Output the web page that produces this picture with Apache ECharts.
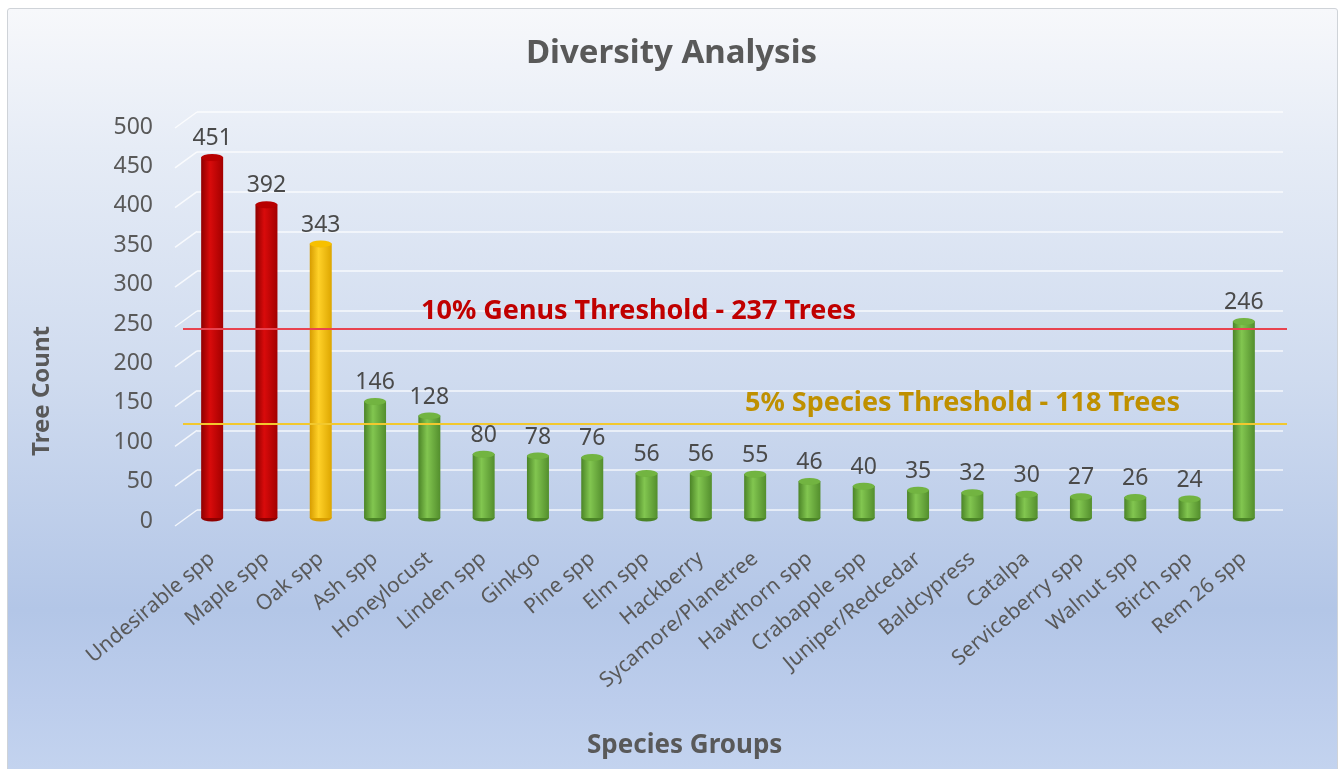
<!DOCTYPE html>
<html>
<head>
<meta charset="utf-8">
<title>Diversity Analysis</title>
<script src="https://cdn.jsdelivr.net/npm/echarts@6/dist/echarts.min.js"></script>
<style>
  html, body { margin: 0; padding: 0; background: #ffffff; }
  #frame {
    position: absolute; left: 7px; top: 8px; width: 1329px; height: 770px;
    border: 1px solid #cfd3d8; border-radius: 3px;
    background: linear-gradient(to bottom, #f7f8fb 0%, #e6ecf6 18%, #cfdbef 48%, #b3c6e7 78%, #bccdec 90%, #c4d4ef 100%);
  }
  #chart { position: absolute; left: 0; top: 0; width: 1343px; height: 769px; }
</style>
</head>
<body>
<div id="frame"></div>
<div id="chart"></div>
<script>
// Tree counts per species group
const categories = [
  'Undesirable spp', 'Maple spp', 'Oak spp', 'Ash spp', 'Honeylocust', 'Linden spp',
  'Ginkgo', 'Pine spp', 'Elm spp', 'Hackberry', 'Sycamore/Planetree', 'Hawthorn spp',
  'Crabapple spp', 'Juniper/Redcedar', 'Baldcypress', 'Catalpa', 'Serviceberry spp',
  'Walnut spp', 'Birch spp', 'Rem 26 spp'
];
const treeCounts = [451, 392, 343, 146, 128, 80, 78, 76, 56, 56, 55, 46, 40, 35, 32, 30, 27, 26, 24, 246];

// Groups drawn in warning colours
const overGenusLimit = ['Undesirable spp', 'Maple spp'];
const overSpeciesLimit = ['Oak spp'];

// Threshold lines
const genusThreshold = 237;
const speciesThreshold = 118;

// Value axis
const yMin = 0, yMax = 500, yStep = 50;

const tones = {
  red:   { side: ['#8e0000', '#d90b0b', '#a30000'], top: '#b80000', edge: '#7a0000' },
  gold:  { side: ['#d79c00', '#ffd128', '#dda600'], top: '#f7c000', edge: '#b88800' },
  green: { side: ['#4b8427', '#82c650', '#538e2d'], top: '#72b441', edge: '#3f7420' }
};
function toneOf(name) {
  if (overGenusLimit.includes(name)) return tones.red;
  if (overSpeciesLimit.includes(name)) return tones.gold;
  return tones.green;
}
function sideFill(t) {
  return new echarts.graphic.LinearGradient(0, 0, 1, 0, [
    { offset: 0, color: t.side[0] },
    { offset: 0.4, color: t.side[1] },
    { offset: 1, color: t.side[2] }
  ]);
}

const barData = treeCounts.map((v, i) => {
  const t = toneOf(categories[i]);
  return { value: v, itemStyle: { color: sideFill(t) } };
});
const capData = treeCounts.map((v, i) => {
  const t = toneOf(categories[i]);
  return { value: v, itemStyle: { color: t.top, borderColor: t.edge, borderWidth: 1 } };
});
const baseData = treeCounts.map((v, i) => {
  const t = toneOf(categories[i]);
  return { value: v, itemStyle: { color: t.side[0] } };
});

// Tick values of the value axis, used for the slanted wall edges
const tickValues = [];
for (let v = yMin; v <= yMax; v += yStep) tickValues.push([0, v]);

const textGrey = '#595959';
const font = 'Noto Sans';
const chart = echarts.init(document.getElementById('chart'), null, { renderer: 'canvas' });

const valueAxisBase = {
  type: 'value', min: yMin, max: yMax, interval: yStep,
  axisLine: { show: false }, axisTick: { show: false },
  axisLabel: { show: false }, splitLine: { show: false }
};

chart.setOption({
  backgroundColor: 'transparent',
  animation: false,
  title: [
    {
      text: 'Diversity Analysis', left: 'center', top: 32,
      textStyle: { fontFamily: font, fontWeight: 'bold', fontSize: 33, color: textGrey }
    },
    {
      text: 'Species Groups', left: 582, top: 728,
      textStyle: { fontFamily: font, fontWeight: 'bold', fontSize: 26, color: textGrey }
    }
  ],
  graphic: [
    {
      type: 'text', x: 42, y: 391, rotation: Math.PI / 2,
      style: {
        text: 'Tree Count', align: 'center', verticalAlign: 'middle',
        fontFamily: font, fontWeight: 'bold', fontSize: 24, fill: textGrey
      }
    }
  ],
  grid: [
    // bars
    { left: 185, right: 72, top: 118, bottom: 251 },
    // back-wall gridlines
    { left: 197, right: 60, top: 112, bottom: 259 },
    // value tick labels
    { left: 185, right: 72, top: 127, bottom: 248 },
    // threshold lines
    { left: 183, right: 56, top: 118, bottom: 251 }
  ],
  xAxis: [
    {
      type: 'category', data: categories, gridIndex: 0,
      axisLine: { show: false }, axisTick: { show: false },
      axisLabel: {
        interval: 0, rotate: 40, margin: 38,
        fontFamily: font, fontSize: 21, color: textGrey
      }
    },
    { type: 'category', data: categories, gridIndex: 1, show: false },
    { type: 'category', data: categories, gridIndex: 2, show: false },
    { type: 'category', data: categories, gridIndex: 3, show: false }
  ],
  yAxis: [
    Object.assign({}, valueAxisBase, { gridIndex: 0 }),
    Object.assign({}, valueAxisBase, {
      gridIndex: 1,
      splitLine: { show: true, lineStyle: { color: 'rgba(255,255,255,0.8)', width: 1.5 } }
    }),
    Object.assign({}, valueAxisBase, {
      gridIndex: 2,
      axisLabel: { show: true, margin: 32, fontFamily: font, fontSize: 23, color: textGrey }
    }),
    Object.assign({}, valueAxisBase, { gridIndex: 3 })
  ],
  series: [
    {
      // slanted side-wall edges of the gridlines
      type: 'custom', xAxisIndex: 1, yAxisIndex: 1, data: tickValues, silent: true, z: 1,
      renderItem: function (params, api) {
        const y = api.coord([0, api.value(1)])[1];
        const x0 = params.coordSys.x;
        return {
          type: 'line',
          shape: { x1: x0 - 22, y1: y + 16, x2: x0, y2: y },
          style: { stroke: 'rgba(255,255,255,0.8)', lineWidth: 1.5 }
        };
      }
    },
    {
      type: 'bar', data: barData, xAxisIndex: 0, yAxisIndex: 0,
      barWidth: 22, z: 3,
      label: {
        show: true, position: 'top', distance: 7,
        fontFamily: font, fontSize: 23, color: '#4a4a4a'
      }
    },
    {
      type: 'pictorialBar', data: capData, xAxisIndex: 0, yAxisIndex: 0,
      symbol: 'circle', symbolSize: [22, 7], symbolPosition: 'end', symbolOffset: [0, '-50%'],
      z: 4, silent: true
    },
    {
      type: 'pictorialBar', data: baseData, xAxisIndex: 0, yAxisIndex: 0,
      symbol: 'circle', symbolSize: [22, 7], symbolPosition: 'start', symbolOffset: [0, '50%'],
      z: 2, silent: true
    },
    {
      type: 'line', data: categories.map(() => null), xAxisIndex: 3, yAxisIndex: 3,
      showSymbol: false, silent: true, z: 5,
      markLine: {
        silent: true, symbol: 'none', animation: false,
        data: [
          {
            yAxis: genusThreshold,
            lineStyle: { color: '#e8434f', width: 2, type: 'solid' },
            label: {
              show: true, position: 'insideStartTop', distance: [238, 4],
              formatter: '10% Genus Threshold - ' + genusThreshold + ' Trees',
              fontFamily: font, fontWeight: 'bold', fontSize: 27, color: '#c00000'
            }
          },
          {
            yAxis: speciesThreshold,
            lineStyle: { color: '#f2c82e', width: 2, type: 'solid' },
            label: {
              show: true, position: 'insideStartTop', distance: [562, 7],
              formatter: '5% Species Threshold - ' + speciesThreshold + ' Trees',
              fontFamily: font, fontWeight: 'bold', fontSize: 27, color: '#bf9000'
            }
          }
        ]
      }
    }
  ]
});
</script>
</body>
</html>
